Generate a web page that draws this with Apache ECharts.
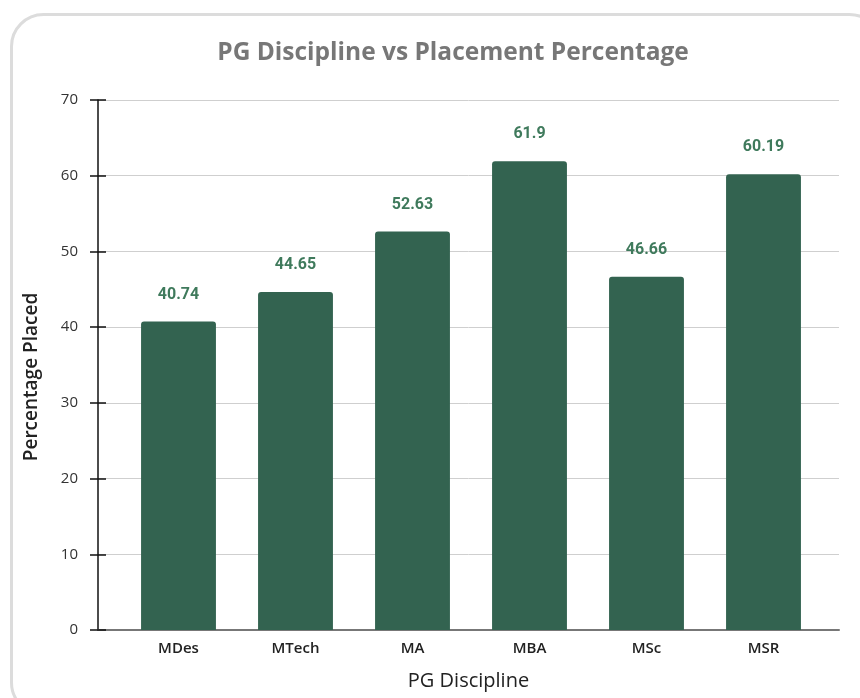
<!DOCTYPE html>
<html><head><meta charset="utf-8">
<script src="https://cdn.jsdelivr.net/npm/echarts@6/dist/echarts.min.js"></script>
<style>html,body{margin:0;padding:0;background:#fff}#c{width:860px;height:698px}</style>
</head><body><div id="c"></div>
<script>
const categories = ['MDes','MTech','MA','MBA','MSc','MSR'];
const placed = [40.74, 44.65, 52.63, 61.9, 46.66, 60.19];
const yTicks = [0,10,20,30,40,50,60,70];

const chart = echarts.init(document.getElementById('c'));
const font = '"Open Sans", "Noto Sans", sans-serif';
const yMin = yTicks[0], yMax = yTicks[yTicks.length-1], yStep = yTicks[1]-yTicks[0];
chart.setOption({
  animation: false,
  backgroundColor: '#fff',
  graphic: [{
    type: 'rect', left: 10, top: 13, z: -1,
    shape: { width: 870, height: 700, r: 32 },
    style: { fill: '#fff', stroke: '#dcdcdc', lineWidth: 3 }
  }],
  title: {
    text: 'PG Discipline vs Placement Percentage',
    left: 448, top: 36, textAlign: 'center',
    textStyle: { color: '#777', fontSize: 24.5, fontWeight: 'bold', fontFamily: font }
  },
  grid: [
    { left: 98, right: 21, top: 100, bottom: 68 },
    { left: 120, right: 38, top: 100, bottom: 68 }
  ],
  xAxis: [{
    gridIndex: 0, type: 'value', min: 0, max: 1,
    axisLine: { show: true, onZero: false, lineStyle: { color: '#777', width: 2 } },
    axisTick: { show: false }, axisLabel: { show: false }, splitLine: { show: false },
    name: 'PG Discipline', nameLocation: 'middle', nameGap: 41,
    nameTextStyle: { color: '#222', fontSize: 20, fontFamily: font }
  }, {
    gridIndex: 1, type: 'category', data: categories,
    axisLine: { show: false }, axisTick: { show: false },
    axisLabel: { color: '#222', fontSize: 15, fontWeight: 600, fontFamily: font, margin: 11 }
  }],
  yAxis: [{
    gridIndex: 0, type: 'value', min: yMin, max: yMax, interval: yStep,
    name: 'Percentage Placed', nameLocation: 'middle', nameGap: 57, nameRotate: 90,
    nameTextStyle: { color: '#222', fontSize: 19, fontWeight: 600, fontFamily: font, padding: [0, 24, 0, 0] },
    axisLine: { show: true, lineStyle: { color: '#111', width: 1.5 } },
    axisTick: { show: true, length: 8, lineStyle: { color: '#111', width: 1.5 } },
    axisLabel: { color: '#333', fontSize: 15, fontFamily: font, margin: 20 },
    splitLine: { lineStyle: { color: '#cfcfcf', width: 1 } }
  }, {
    gridIndex: 0, type: 'value', position: 'left', min: yMin, max: yMax, interval: yStep,
    axisLine: { show: false },
    axisTick: { show: true, inside: true, length: 8, lineStyle: { color: '#111', width: 1.5 } },
    axisLabel: { show: false }, splitLine: { show: false }
  }, {
    gridIndex: 1, type: 'value', min: yMin, max: yMax, interval: yStep, show: false
  }],
  series: [{
    type: 'bar', xAxisIndex: 1, yAxisIndex: 2, data: placed, barWidth: '64%',
    itemStyle: { color: '#336350', borderRadius: [3,3,0,0] },
    label: {
      show: true, position: 'top', distance: 19,
      color: '#3f7a5c', fontSize: 16, fontWeight: 'bold', fontFamily: 'Roboto, sans-serif'
    }
  }]
});
</script></body></html>
